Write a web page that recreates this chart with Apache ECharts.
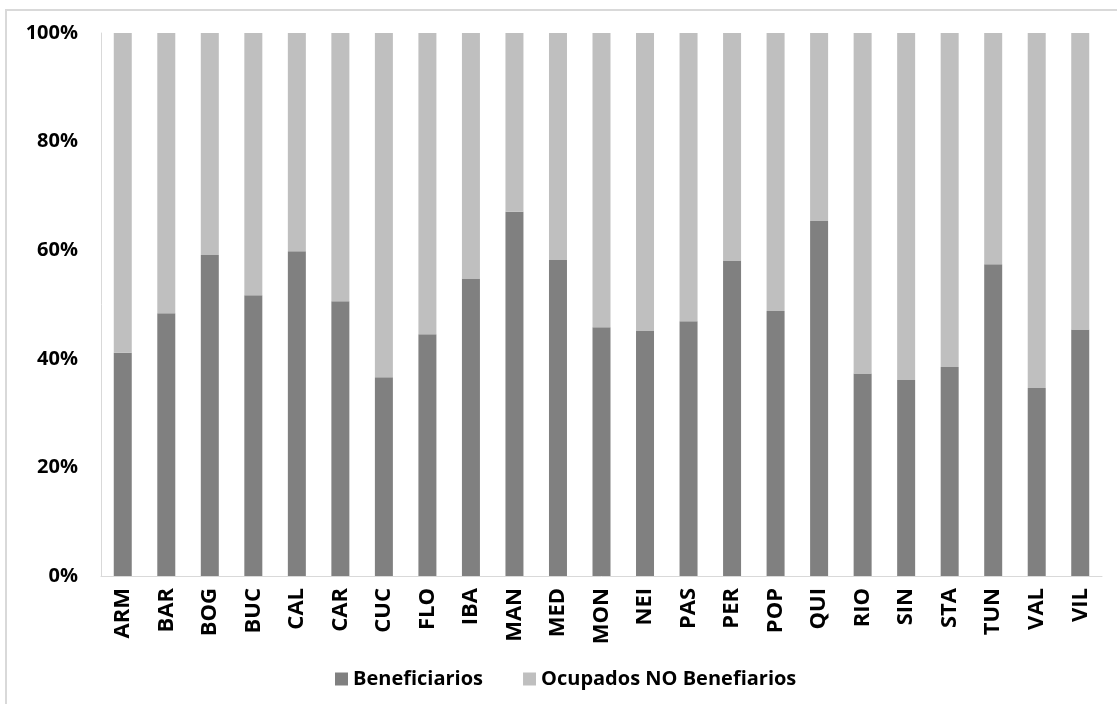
<!DOCTYPE html>
<html><head><meta charset="utf-8">
<script src="https://cdn.jsdelivr.net/npm/echarts@6/dist/echarts.min.js"></script>
<style>html,body{margin:0;padding:0;background:#fff}#c{width:1117px;height:704px;position:absolute;left:0;top:0}
#f{position:absolute;left:5px;top:9px;width:1112px;height:695px;border-top:2px solid #d9d9d9;border-left:2px solid #d9d9d9;box-sizing:border-box}</style>
</head><body><div id="f"></div><div id="c"></div>
<script>
const categories = ["ARM","BAR","BOG","BUC","CAL","CAR","CUC","FLO","IBA","MAN","MED","MON","NEI","PAS","PER","POP","QUI","RIO","SIN","STA","TUN","VAL","VIL"];
const beneficiarios = [41.1,48.4,59.1,51.7,59.8,50.6,36.6,44.5,54.8,67.1,58.3,45.8,45.1,46.9,58.1,48.8,65.4,37.3,36.1,38.5,57.4,34.6,45.4];
const noBeneficiarios = beneficiarios.map(v => +(100 - v).toFixed(1));
const seriesNames = ["Beneficiarios","Ocupados NO Benefiarios"];
const font = "'Open Sans', 'Noto Sans', sans-serif";
const chart = echarts.init(document.getElementById('c'));
chart.setOption({
  animation: false,
  grid: {left: 101, right: 15, top: 33, bottom: 128},
  legend: {
    data: seriesNames, top: 664, left: 330, itemWidth: 13, itemHeight: 13, itemGap: 40,
    icon: 'rect',
    textStyle: {fontFamily: font, fontWeight: 'bold', fontSize: 20, color: '#000'}
  },
  xAxis: {
    type: 'category', data: categories,
    axisLine: {lineStyle: {color: '#d9d9d9'}}, axisTick: {show: false},
    axisLabel: {rotate: 90, fontFamily: font, fontWeight: 'bold', fontSize: 22, color: '#000', margin: 12}
  },
  yAxis: {
    type: 'value', min: 0, max: 100, interval: 20,
    axisLine: {show: true, lineStyle: {color: '#d9d9d9'}}, axisTick: {show: false},
    splitLine: {show: false},
    axisLabel: {formatter: '{value}%', fontFamily: font, fontWeight: 'bold', fontSize: 20, color: '#000', margin: 23}
  },
  series: [
    {name: seriesNames[0], type: 'bar', stack: 't', data: beneficiarios, barWidth: 18, itemStyle: {color: '#808080'}},
    {name: seriesNames[1], type: 'bar', stack: 't', data: noBeneficiarios, barWidth: 18, itemStyle: {color: '#bfbfbf'}}
  ]
});
</script></body></html>
